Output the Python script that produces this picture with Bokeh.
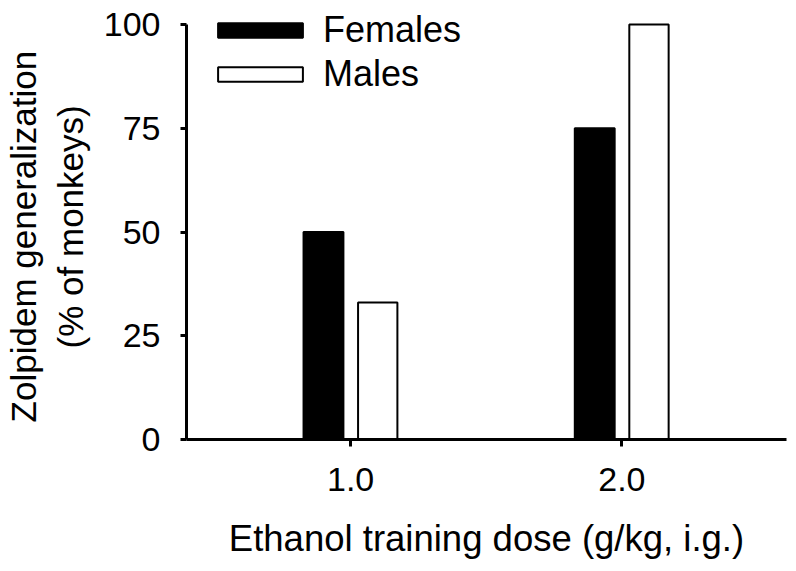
from bokeh.plotting import figure
from bokeh.models import ColumnDataSource, FixedTicker, Range1d, NumeralTickFormatter
from bokeh.transform import dodge
from bokeh.embed import file_html
from bokeh.resources import INLINE

doses = [1.0, 2.0]
females = [50, 75]
males = [33, 100]
y_ticks = [0, 25, 50, 75, 100]
series_names = ["Females", "Males"]
y_title_lines = ["Zolpidem generalization", "(% of monkeys)"]
x_title = "Ethanol training dose (g/kg, i.g.)"

FONT = "Liberation Sans"
NB = "\u00a0"

source = ColumnDataSource(dict(dose=doses, females=females, males=males))

p = figure(width=796, height=561, output_backend="svg", toolbar_location=None,
           x_range=Range1d(0.395, 2.607), y_range=Range1d(0, 104.82),
           min_border_left=185, min_border_right=10, min_border_top=4,
           min_border_bottom=116)

p.vbar(x=dodge("dose", -0.1, range=p.x_range), top="females", width=0.147,
       source=source, fill_color="black", line_color="black", line_width=2,
       legend_label=series_names[0])
p.vbar(x=dodge("dose", 0.1, range=p.x_range), top="males", width=0.145,
       source=source, fill_color="white", line_color="black", line_width=2,
       legend_label=series_names[1])

p.grid.visible = False
p.outline_line_color = None
p.background_fill_color = "white"
p.border_fill_color = "white"

xa = p.xaxis[0]
xa.ticker = FixedTicker(ticks=doses)
xa.formatter = NumeralTickFormatter(format="0.0")
xa.axis_label = x_title
xa.axis_line_width = 3
xa.axis_line_color = "black"
xa.major_tick_line_width = 3
xa.major_tick_line_color = "black"
xa.major_tick_out = 7
xa.major_tick_in = 0
xa.minor_tick_line_color = None
xa.major_label_text_font = FONT
xa.major_label_text_font_size = "34px"
xa.major_label_text_color = "black"
xa.major_label_standoff = 21
xa.axis_label_text_font = FONT
xa.axis_label_text_font_size = "36.5px"
xa.axis_label_text_font_style = "normal"
xa.axis_label_text_color = "black"
xa.axis_label_standoff = 24

ya = p.yaxis[0]
ya.ticker = FixedTicker(ticks=y_ticks)
ya.bounds = (0, 100)
# padding (no-break spaces) nudges each centred line to its place along the axis
ya.axis_label = y_title_lines[0] + NB * 3 + "\n" + y_title_lines[1] + NB
ya.axis_line_width = 3
ya.axis_line_color = "black"
ya.major_tick_line_width = 3
ya.major_tick_line_color = "black"
ya.major_tick_out = 6
ya.major_tick_in = 0
ya.minor_tick_line_color = None
ya.major_label_text_font = FONT
ya.major_label_text_font_size = "34px"
ya.major_label_text_color = "black"
ya.major_label_standoff = 20
ya.axis_label_text_font = FONT
ya.axis_label_text_font_size = "35px"
ya.axis_label_text_font_style = "normal"
ya.axis_label_text_color = "black"
ya.axis_label_standoff = 11

lg = p.legend[0]
lg.location = (21, 343)
lg.border_line_color = None
lg.background_fill_alpha = 0
lg.padding = 0
lg.margin = 0
lg.spacing = 0
lg.glyph_width = 106
lg.glyph_height = 18
lg.label_height = 44
lg.label_standoff = 10
lg.label_text_font = FONT
lg.label_text_font_size = "36px"
lg.label_text_color = "black"

open("out.html", "w").write(file_html(p, INLINE))
